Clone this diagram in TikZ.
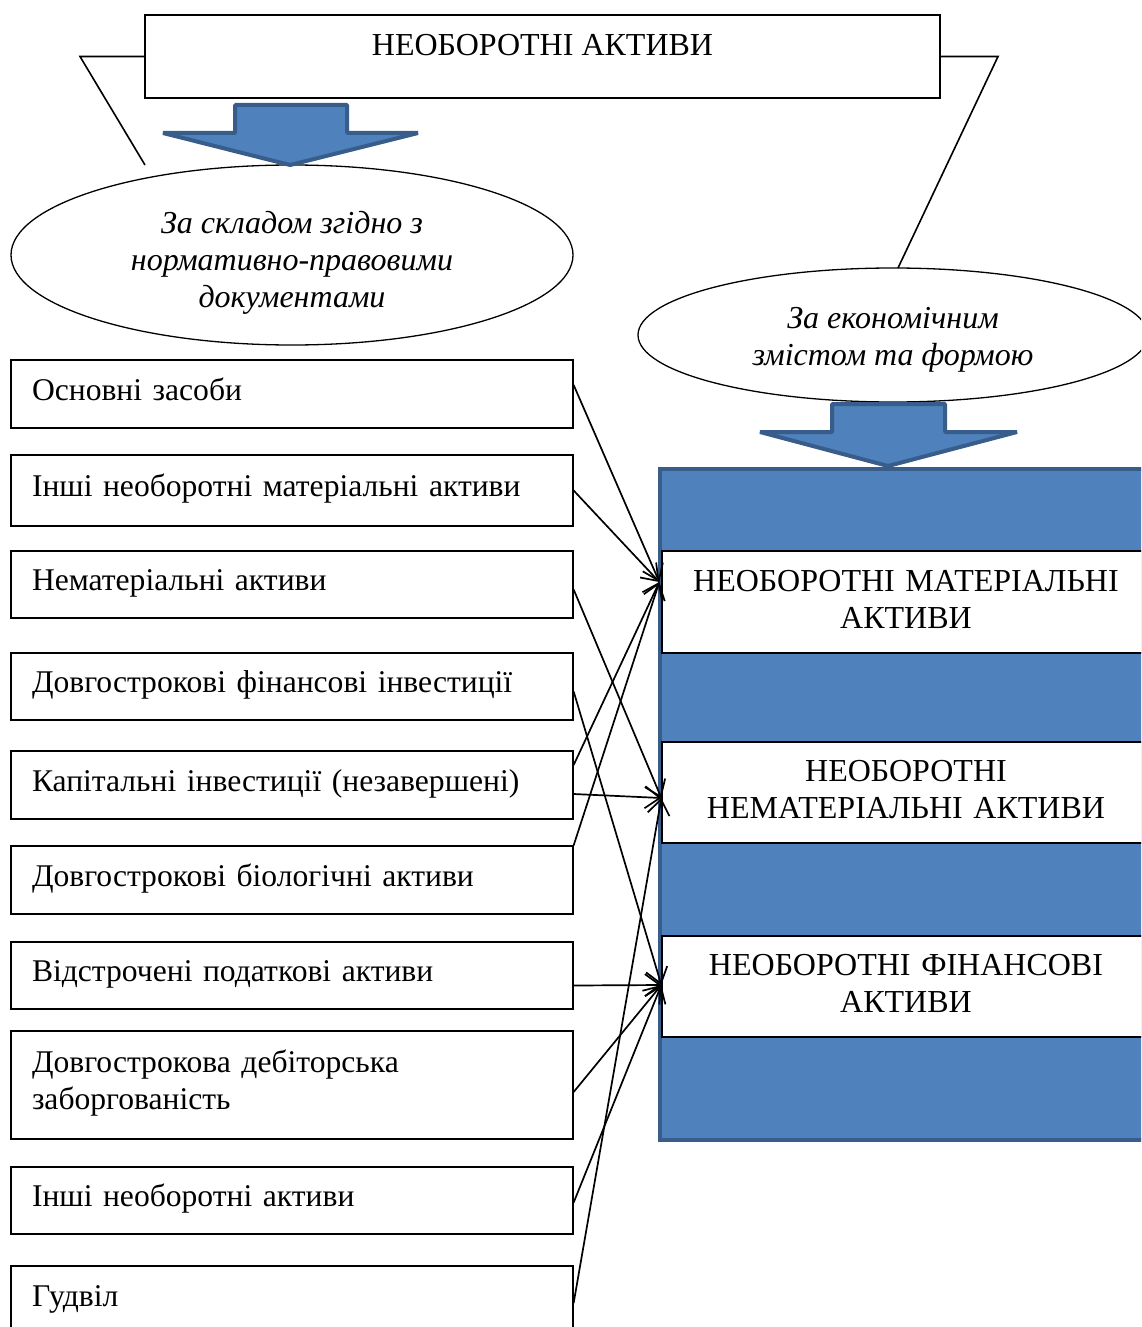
\documentclass[tikz,border=0pt]{standalone}
\usepackage{fontspec}
\setmainfont{Liberation Serif}
\usetikzlibrary{shapes.geometric,arrows.meta,calc}
\definecolor{accblue}{HTML}{4F81BD}
\definecolor{accdark}{HTML}{385D8A}
\newcommand\fsz{\fontsize{32}{37}\selectfont}
\newcommand\fszl{\fontsize{31.6}{37}\selectfont}
\begin{document}
\begin{tikzpicture}[x=1pt,y=-1pt,
  thinline/.style={line width=1.3pt},
  leftbox/.style={draw, thinline, fill=white, inner xsep=21pt, inner ysep=0pt,
    text width=520pt, align=left, minimum height=68pt, font=\fszl,
    text height=21pt, text depth=9pt},
  rightbox/.style={draw, thinline, fill=white, inner sep=0pt, text width=488pt,
    align=center, minimum height=101pt, font=\fsz},
  oval/.style={draw, thinline, fill=white, ellipse, inner sep=0pt, align=center,
    font=\fsz\itshape},
  panel/.style={draw=accdark, fill=accblue, line width=4pt, inner sep=0pt},
  blockarrow/.style={draw=accdark, fill=accblue, line width=4pt, line join=bevel},
  conn/.style={line width=1.7pt, -{Straight Barb[length=15pt,width=22pt]}},
  bracket/.style={line width=1.6pt}]
\useasboundingbox (0,0) rectangle (1141,1327);
\clip (0,0) rectangle (1141,1327);

% title
\node[draw, thinline, minimum width=795pt, minimum height=83pt, inner sep=0pt,
  text height=21pt, text depth=22pt, font=\fsz] (title) at (542.5,56.5) {НЕОБОРОТНІ АКТИВИ};

% ellipses
\node[oval, minimum width=562pt, minimum height=180pt] (lell) at (292,255)
  {\rule{0pt}{37pt}За складом згідно з\\нормативно-правовими\\документами};
\node[oval, minimum width=510pt, minimum height=134pt] (rell) at (893,335)
  {\rule{0pt}{31pt}За економічним\\змістом та формою};

% brackets
\coordinate (lb) at (80,56.5);
\coordinate (lbe) at (145,165);
\coordinate (rb) at (998,56.5);
\coordinate (rbe) at (898,268);
\draw[bracket] (title.west) -- (lb) -- (lbe);
\draw[bracket] (title.east) -- (rb) -- (rbe);

% block arrows
\draw[blockarrow] (235,105) -- (347,105) -- (347,133) -- (418,133) -- (290,165)
  -- (163,133) -- (235,133) -- cycle;
\draw[blockarrow] (832,404) -- (945,404) -- (945,432) -- (1017,432) -- (888,466)
  -- (760,432) -- (832,432) -- cycle;

% right panel
\node[panel, minimum width=500pt, minimum height=671pt] (panel) at (910,804.5) {};
\node[rightbox, minimum height=102pt] (r1) at (906,602)
  {НЕОБОРОТНІ МАТЕРІАЛЬНІ\\АКТИВИ\rule[-6pt]{0pt}{1pt}};
\node[rightbox] (r2) at (906,792.5)
  {НЕОБОРОТНІ\\НЕМАТЕРІАЛЬНІ АКТИВИ\rule[-6pt]{0pt}{1pt}};
\node[rightbox] (r3) at (906,986.5)
  {НЕОБОРОТНІ ФІНАНСОВІ\\АКТИВИ\rule[-6pt]{0pt}{1pt}};

% left boxes
\node[leftbox] (l1) at (292,394) {Основні засоби};
\node[leftbox, minimum height=71pt] (l2) at (292,490.5) {Інші необоротні матеріальні активи};
\node[leftbox, minimum height=67pt] (l3) at (292,584.5) {Нематеріальні активи};
\node[leftbox, minimum height=67pt] (l4) at (292,686.5) {Довгострокові фінансові інвестиції};
\node[leftbox] (l5) at (292,785) {Капітальні інвестиції (незавершені)};
\node[leftbox] (l6) at (292,880) {Довгострокові біологічні активи};
\node[leftbox, minimum height=67pt] (l7) at (292,975.5) {Відстрочені податкові активи};
\node[leftbox, minimum height=108pt, text height=21pt, text depth=46pt] (l8) at (292,1085)
  {Довгострокова дебіторська\\заборгованість};
\node[leftbox, minimum height=67pt] (l9) at (292,1200.5) {Інші необоротні активи};
\node[leftbox] (l10) at (292,1300) {Гудвіл};

% targets
\coordinate (t1) at ([shift={(-2,-20)}]r1.west);
\coordinate (t2) at ([shift={(0,5.5)}]r2.west);
\coordinate (t3) at ([shift={(0,-1.5)}]r3.west);

% connectors
\draw[conn] ([shift={(0,-9)}]l1.east) -- (t1);
\draw[conn] (l2.east) -- (t1);
\draw[conn] ([shift={(0,5)}]l3.east) -- (t2);
\draw[conn] ([shift={(0,5)}]l4.east) -- (t3);
\draw[conn] ([shift={(0,-20)}]l5.east) -- (t1);
\draw[conn] ([shift={(0,9)}]l5.east) -- (t2);
\draw[conn] (l6.north east) -- (t1);
\draw[conn] ([shift={(0,10)}]l7.east) -- (t3);
\draw[conn] ([shift={(0,7)}]l8.east) -- (t3);
\draw[conn] ([shift={(0,2)}]l9.east) -- (t3);
\draw[conn] ([shift={(0,3)}]l10.east) -- (t2);
\end{tikzpicture}
\end{document}
